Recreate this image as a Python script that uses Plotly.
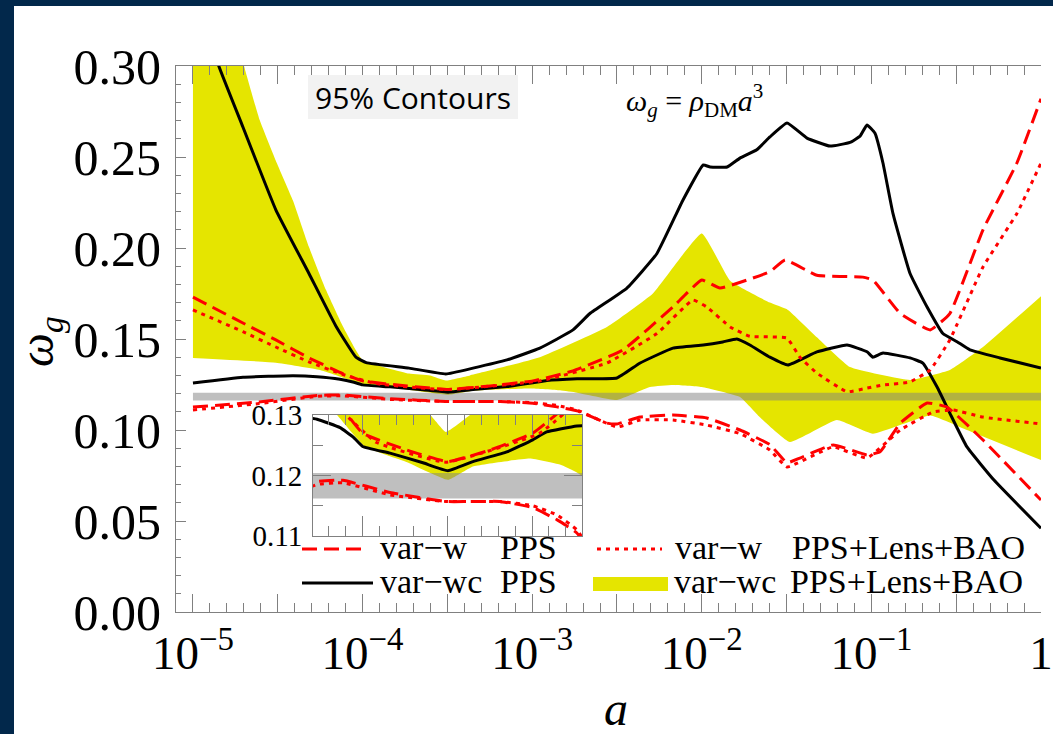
import plotly.graph_objects as go

# ------------------------------------------------------------------ data
# var-wc PPS (black solid) upper / lower 95% contour
BU_a = [1e-5, 1.42e-5, 1.97e-5, 3.08e-5, 4.83e-5, 6.97e-5, 9.14e-5, 1.05e-4, 1.88e-4, 3.1e-4,
        4.48e-4, 7.1e-4, 1.11e-3, 1.74e-3, 2.19e-3, 3.62e-3, 5.44e-3, 7.75e-3, 1.02e-2, 1.12e-2,
        1.41e-2, 1.68e-2, 2.11e-2, 2.52e-2, 3.18e-2, 4.17e-2, 5.7e-2, 7.48e-2, 8.57e-2, 9.42e-2,
        0.105, 0.117, 0.134, 0.169, 0.213, 0.264, 0.32, 0.381, 0.573, 1.0]
BU_w = [0.345, 0.300, 0.2665, 0.221, 0.186, 0.157, 0.140, 0.137, 0.134, 0.1308,
        0.134, 0.1385, 0.145, 0.155, 0.164, 0.178, 0.197, 0.2264, 0.2456, 0.2445,
        0.2445, 0.2494, 0.254, 0.261, 0.2687, 0.2604, 0.256, 0.258, 0.2615, 0.2676,
        0.263, 0.2467, 0.219, 0.186, 0.1676, 0.153, 0.1485, 0.144, 0.1396, 0.134]

BL_a = [1e-5, 1.97e-5, 3.89e-5, 5.38e-5, 7.36e-5, 8.77e-5, 1.0e-4, 1.45e-4, 2.27e-4, 3.19e-4,
        4.48e-4, 7.1e-4, 1.01e-3, 1.22e-3, 1.84e-3, 3.16e-3, 4.33e-3, 6.76e-3, 1.02e-2, 1.33e-2,
        1.61e-2, 1.92e-2, 2.52e-2, 3.22e-2, 4.77e-2, 7.18e-2, 9.42e-2, 0.102, 0.117, 0.169,
        0.201, 0.244, 0.29, 0.366, 0.528, 1.0]
BL_w = [0.1258, 0.129, 0.1298, 0.1293, 0.1279, 0.1264, 0.1248, 0.1237, 0.1221, 0.1208,
        0.1223, 0.1239, 0.1259, 0.1272, 0.1282, 0.1286, 0.1368, 0.145, 0.1467, 0.1484,
        0.150, 0.1467, 0.140, 0.1357, 0.1429, 0.1467, 0.143, 0.140, 0.1423, 0.1396,
        0.1368, 0.1236, 0.1093, 0.0907, 0.0725, 0.046]

# var-w PPS (red dashed) upper / lower
RDU_a = [1e-5, 1.97e-5, 3.08e-5, 4.83e-5, 7.65e-5, 1.0e-4, 1.83e-4, 3.19e-4, 5.64e-4, 1.01e-3,
         1.74e-3, 3.43e-3, 6.76e-3, 1.0e-2, 1.28e-2, 2.52e-2, 3.1e-2, 4.77e-2, 8.9e-2, 0.102,
         0.148, 0.222, 0.29, 0.455, 0.721, 1.0]
RDU_w = [0.173, 0.1588, 0.1495, 0.1396, 0.131, 0.127, 0.1242, 0.1223, 0.1242, 0.127,
         0.1325, 0.144, 0.1676, 0.1824, 0.178, 0.187, 0.1934, 0.185, 0.184, 0.1824,
         0.164, 0.155, 0.164, 0.21, 0.2467, 0.282]

RDL_a = [1e-5, 2.45e-5, 5.38e-5, 7.65e-5, 1.45e-4, 3.1e-4, 6.46e-4, 1.01e-3, 1.4e-3, 1.84e-3,
         2.76e-3, 3.16e-3, 4.33e-3, 6.76e-3, 1.07e-2, 1.68e-2, 2.52e-2, 3.18e-2, 3.79e-2, 5.94e-2,
         9.42e-2, 0.1125, 0.148, 0.213, 0.279, 0.455, 1.0]
RDL_w = [0.1126, 0.1154, 0.119, 0.1192, 0.1172, 0.1157, 0.1157, 0.1147, 0.1127, 0.1105,
         0.1038, 0.1033, 0.1071, 0.1082, 0.1066, 0.100, 0.092, 0.082, 0.0846, 0.0918,
         0.0863, 0.088, 0.1038, 0.1148, 0.1126, 0.0945, 0.0615]

# var-w PPS+Lens+BAO (red dotted) upper / lower
RTU_a = [1e-5, 1.97e-5, 3.08e-5, 4.83e-5, 7.65e-5, 1.2e-4, 3.1e-4, 1.11e-3, 2.76e-3, 5.44e-3,
         8.87e-3, 1.07e-2, 1.47e-2, 1.92e-2, 3.18e-2, 3.79e-2, 4.77e-2, 7.18e-2, 9.42e-2, 0.117,
         0.169, 0.222, 0.29, 0.455, 0.721, 1.0]
RTU_w = [0.166, 0.154, 0.1456, 0.1374, 0.1305, 0.1255, 0.1222, 0.127, 0.1368, 0.153,
         0.1714, 0.1676, 0.1566, 0.1515, 0.1505, 0.140, 0.1313, 0.121, 0.123, 0.1247,
         0.1264, 0.133, 0.1495, 0.1896, 0.219, 0.2467]

RTL_a = [1e-5, 2.45e-5, 5.38e-5, 7.65e-5, 1.45e-4, 3.1e-4, 6.46e-4, 1.01e-3, 1.4e-3, 1.84e-3,
         3.16e-3, 4.33e-3, 6.76e-3, 1.07e-2, 1.68e-2, 2.52e-2, 3.18e-2, 5.94e-2, 9.42e-2, 0.148,
         0.231, 0.303, 0.455, 1.0]
RTL_w = [0.111, 0.1145, 0.1185, 0.1188, 0.1168, 0.1157, 0.1157, 0.115, 0.1135, 0.111,
         0.1016, 0.1055, 0.1055, 0.1027, 0.098, 0.089, 0.0797, 0.0907, 0.0846, 0.100,
         0.1099, 0.111, 0.1071, 0.1033]

# var-wc PPS+Lens+BAO (yellow band) upper / lower
YU_a = [1e-5, 1.5e-5, 2e-5, 2.48e-5, 3.08e-5, 3.89e-5, 4.83e-5, 6.08e-5, 7.65e-5, 1.0e-4,
        1.88e-4, 2.5e-4, 3.1e-4, 4.3e-4, 1.11e-3, 2.76e-3, 5.15e-3, 1.0e-2, 1.47e-2, 2.52e-2,
        3.22e-2, 4.77e-2, 7.48e-2, 0.169, 0.29, 0.455, 1.0]
YU_w = [0.40, 0.345, 0.300, 0.270, 0.248, 0.226, 0.2005, 0.177, 0.157, 0.1385,
        0.131, 0.130, 0.1272, 0.130, 0.140, 0.1566, 0.175, 0.208, 0.182, 0.170,
        0.166, 0.151, 0.1346, 0.1275, 0.133, 0.1456, 0.1735]

YL_a = [1e-5, 3.08e-5, 5.61e-5, 7.06e-5, 1.03e-4, 1.83e-4, 3.19e-4, 4.48e-4, 9.7e-4, 1.46e-3,
        1.84e-3, 3.16e-3, 4.95e-3, 6.76e-3, 1.0e-2, 1.68e-2, 2.2e-2, 3.31e-2, 6.26e-2, 0.102,
        0.222, 0.366, 1.0]
YL_w = [0.1396, 0.137, 0.133, 0.130, 0.1248, 0.1222, 0.1193, 0.1215, 0.1228, 0.1218,
        0.1205, 0.1165, 0.1236, 0.1247, 0.1236, 0.1181, 0.107, 0.0934, 0.1055, 0.098,
        0.108, 0.100, 0.0835]

# grey reference band
GR_a = [1e-5, 1.0]
GR_lo = [0.1162, 0.1162]
GR_hi = [0.1204, 0.1204]

# tick labels
Y_TICKS = [0.0, 0.05, 0.10, 0.15, 0.20, 0.25, 0.30]
Y_TICKTEXT = ["0.00", "0.05", "0.10", "0.15", "0.20", "0.25", "0.30"]
X_DECADES = [-5, -4, -3, -2, -1, 0]
X_TICKTEXT = ["10<sup>−5</sup>", "10<sup>−4</sup>", "10<sup>−3</sup>",
              "10<sup>−2</sup>", "10<sup>−1</sup>", "1"]
INSET_Y_TICKS = [0.11, 0.12, 0.13]
INSET_Y_TICKTEXT = ["0.11", "0.12", "0.13"]

# ------------------------------------------------------------------ style
NAVY = "#02284b"
YELLOW = "rgb(229,229,0)"
GREY = "rgba(128,128,128,0.5)"
RED = "#ff0000"
AXC = "#808080"
SERIF = "Liberation Serif"
W_PX, H_PX = 1053, 734
ML, MR, MT, MB = 176, 12, 66, 122
PW = W_PX - ML - MR
PH = H_PX - MT - MB


def PX(x):
    return (x - ML) / PW


def PY(y):
    return (H_PX - MB - y) / PH


fig = go.Figure()

SMOOTH = dict(shape="spline", smoothing=0.35)


def add_all(xa, ya):
    common = dict(xaxis=xa, yaxis=ya, showlegend=False, hoverinfo="skip", mode="lines")
    fig.add_trace(go.Scatter(x=YL_a, y=YL_w, line=dict(width=0, color=YELLOW, **SMOOTH), **common))
    fig.add_trace(go.Scatter(x=YU_a, y=YU_w, line=dict(width=0, color=YELLOW, **SMOOTH),
                             fill="tonexty", fillcolor=YELLOW, **common))
    fig.add_trace(go.Scatter(x=GR_a, y=GR_lo, line=dict(width=0, color=GREY), **common))
    fig.add_trace(go.Scatter(x=GR_a, y=GR_hi, line=dict(width=0, color=GREY),
                             fill="tonexty", fillcolor=GREY, **common))
    for a, w in ((BU_a, BU_w), (BL_a, BL_w)):
        fig.add_trace(go.Scatter(x=a, y=w, line=dict(width=3, color="black", **SMOOTH), **common))
    for a, w in ((RDU_a, RDU_w), (RDL_a, RDL_w)):
        fig.add_trace(go.Scatter(x=a, y=w, line=dict(width=3, color=RED, dash="15px,7px", **SMOOTH),
                                 **common))
    for a, w in ((RTU_a, RTU_w), (RTL_a, RTL_w)):
        fig.add_trace(go.Scatter(x=a, y=w, line=dict(width=3, color=RED, dash="4px,5px", **SMOOTH),
                                 **common))


add_all("x", "y")
add_all("x2", "y2")

major_x = [10 ** (k / 2) for k in range(-10, 1)]
major_x_text = []
for k in range(-10, 1):
    if k % 2 == 0:
        major_x_text.append(X_TICKTEXT[X_DECADES.index(k // 2)])
    else:
        major_x_text.append("")
minor_x = [10 ** (k / 10) for k in range(-51, 1) if k % 5 != 0]

fig.update_layout(
    width=W_PX, height=H_PX, autosize=False,
    margin=dict(l=ML, r=MR, t=MT, b=MB, pad=0, autoexpand=False),
    paper_bgcolor="white", plot_bgcolor="white",
    showlegend=False,
    xaxis=dict(type="log", range=[-5.1, 0.0], domain=[0, 1], showline=True, linecolor=AXC,
               automargin=False,
               linewidth=1, mirror="ticks", ticks="inside", ticklen=18, tickwidth=1, tickcolor=AXC,
               tickmode="array", tickvals=major_x, ticktext=major_x_text,
               tickfont=dict(family=SERIF, size=47, color="black"),
               showgrid=False, zeroline=False,
               minor=dict(tickmode="array", tickvals=minor_x, ticks="inside", ticklen=9,
                          tickcolor=AXC, tickwidth=1, showgrid=False)),
    yaxis=dict(range=[0, 0.30], domain=[0, 1], showline=True, linecolor=AXC, linewidth=1,
               automargin=False,
               ticks="inside", ticklen=10, tickwidth=1, tickcolor=AXC,
               tickmode="array", tickvals=Y_TICKS, ticktext=Y_TICKTEXT,
               tickfont=dict(family=SERIF, size=50, color="black"), ticklabelstandoff=4,
               showgrid=False, zeroline=False,
               minor=dict(tickmode="array", tickvals=[i / 100 for i in range(1, 30) if i % 5],
                          ticks="inside", ticklen=5, tickcolor=AXC, tickwidth=1, showgrid=False)),
    xaxis2=dict(type="log", range=[-4.293, -2.705], domain=[PX(313), PX(582)], anchor="y2",
                automargin=False,
                showline=True, linecolor=AXC, linewidth=1, mirror="ticks",
                ticks="inside", ticklen=20, tickcolor=AXC, tickwidth=1,
                tickmode="array", tickvals=[1e-4, 10 ** -3.5, 1e-3], showticklabels=False,
                showgrid=False, zeroline=False,
                minor=dict(tickmode="array",
                           tickvals=[10 ** (k / 10) for k in range(-43, -26) if k % 5 != 0],
                           ticks="inside", ticklen=10, tickcolor=AXC, tickwidth=1, showgrid=False)),
    yaxis2=dict(range=[0.11, 0.13], domain=[PY(536), PY(415)], anchor="x2",
                automargin=False,
                showline=True, linecolor=AXC, linewidth=1, mirror="ticks",
                ticks="inside", ticklen=18, tickcolor=AXC, tickwidth=1,
                tickmode="array", tickvals=INSET_Y_TICKS, ticktext=INSET_Y_TICKTEXT,
                tickfont=dict(family=SERIF, size=29, color="black"), ticklabelstandoff=4,
                showgrid=False, zeroline=False,
                minor=dict(tickmode="array", tickvals=[0.115, 0.125], ticks="inside",
                           ticklen=10, tickcolor=AXC, tickwidth=1, showgrid=False)),
)

shapes = [
    # navy frame strips
    dict(type="rect", xref="paper", yref="paper", x0=PX(0), x1=PX(14), y0=PY(734), y1=PY(0),
         fillcolor=NAVY, line=dict(width=0), layer="above"),
    dict(type="rect", xref="paper", yref="paper", x0=PX(0), x1=PX(1053), y0=PY(6), y1=PY(0),
         fillcolor=NAVY, line=dict(width=0), layer="above"),
    # "95% Contours" box
    dict(type="rect", xref="paper", yref="paper", x0=PX(308), x1=PX(518), y0=PY(119), y1=PY(75),
         fillcolor="#f2f2f2", line=dict(width=0), layer="above"),
    # legend samples
    dict(type="line", xref="paper", yref="paper", x0=PX(302), x1=PX(366), y0=PY(549), y1=PY(549),
         line=dict(color=RED, width=3, dash="15px,7px")),
    dict(type="line", xref="paper", yref="paper", x0=PX(302), x1=PX(373), y0=PY(583), y1=PY(583),
         line=dict(color="black", width=3)),
    dict(type="line", xref="paper", yref="paper", x0=PX(597), x1=PX(662), y0=PY(549), y1=PY(549),
         line=dict(color=RED, width=3, dash="4px,5px")),
    dict(type="rect", xref="paper", yref="paper", x0=PX(593), x1=PX(668), y0=PY(591), y1=PY(577),
         fillcolor=YELLOW, line=dict(width=0)),
]


def ann(text, x, y, size, family=SERIF, xanchor="left", yanchor="middle", angle=0):
    return dict(text=text, x=PX(x), y=PY(y), xref="paper", yref="paper", showarrow=False,
                xanchor=xanchor, yanchor=yanchor, textangle=angle,
                font=dict(family=family, size=size, color="black"))


annotations = [
    ann("95% Contours", 413, 97, 30, family="Open Sans", xanchor="center"),
    ann("<i>ω</i><sub><i>g</i></sub> = <i>ρ</i><sub>DM</sub><i>a</i><sup>3</sup>",
        694, 100, 30, xanchor="center"),
    ann("var−w", 378, 547, 34), ann("PPS", 498, 547, 34),
    ann("var−wc", 378, 581, 34), ann("PPS", 498, 581, 34),
    ann("var−w", 673, 547, 34), ann("PPS+Lens+BAO", 790, 547, 34),
    ann("var−wc", 672, 581, 34), ann("PPS+Lens+BAO", 788, 581, 34),
    ann("<i>a</i>", 616, 708, 48, xanchor="center"),
    ann("<i>ω</i><sub><i>g</i></sub>", 40, 342, 48, xanchor="center", angle=-90),
]

fig.update_layout(shapes=shapes, annotations=annotations)
fig.write_html(
    "out.html",
    config={"displayModeBar": False, "responsive": False},
    post_script="document.documentElement.style.overflow='hidden';"
                "document.documentElement.style.background='white';"
                "document.body.style.margin='0';document.body.style.overflow='hidden';"
                "document.body.style.background='white';",
)
